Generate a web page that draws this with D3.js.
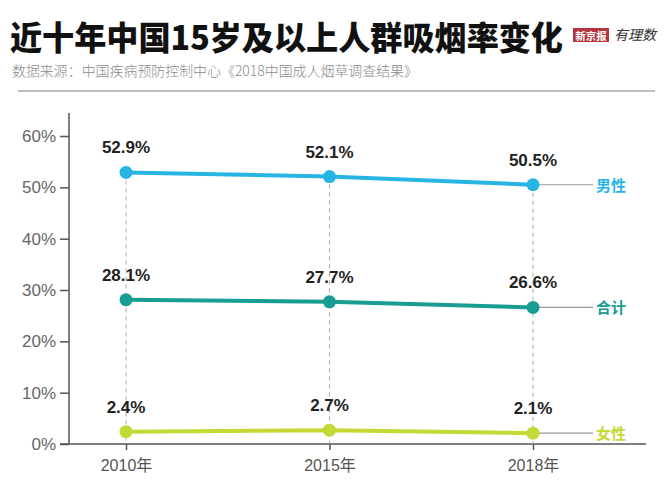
<!DOCTYPE html>
<html><head><meta charset="utf-8">
<script src="https://cdn.jsdelivr.net/npm/d3@7"></script>
<style>body{margin:0;background:#fff;}svg{display:block;}</style>
</head><body>
<svg id="c" width="669" height="500"></svg>
<script>
const years = ["2010年", "2015年", "2018年"];
const seriesNames = ["男性", "合计", "女性"];
const male = [52.9, 52.1, 50.5];
const total = [28.1, 27.7, 26.6];
const female = [2.4, 2.7, 2.1];
const yTicks = [0, 10, 20, 30, 40, 50, 60];
const titleText = "近十年中国15岁及以上人群吸烟率变化";
const sourceText = "数据来源：中国疾病预防控制中心《2018中国成人烟草调查结果》";

const series = [
  {name: seriesNames[0], values: male, color: "#27b4e2"},
  {name: seriesNames[1], values: total, color: "#199c91"},
  {name: seriesNames[2], values: female, color: "#c4d836"}
];

const svg = d3.select("#c");
const font = "'Liberation Sans', Arial, 'Noto Sans CJK SC', sans-serif";

// Title
svg.append("text").attr("x", 10).attr("y", 50)
  .attr("font-family", "'Noto Sans CJK SC', sans-serif").attr("font-weight", 900)
  .attr("font-size", 33).attr("fill", "#111").attr("letter-spacing", 0)
  .attr("textLength", 553).attr("lengthAdjust", "spacingAndGlyphs")
  .text(titleText);
// logo
svg.append("rect").attr("x", 573).attr("y", 28).attr("width", 36).attr("height", 14).attr("fill", "#b3353f");
svg.append("text").attr("x", 591).attr("y", 39.5).attr("text-anchor", "middle")
  .attr("font-family", "'Noto Sans CJK SC', serif").attr("font-weight", 700).attr("font-size", 10.5).attr("fill", "#fff")
  .text("新京报");
svg.append("text").attr("x", 614).attr("y", 40).attr("font-style", "italic")
  .attr("font-family", "'Noto Sans CJK SC', sans-serif").attr("font-size", 14).attr("fill", "#333")
  .text("有理数");
svg.append("text").attr("x", 12).attr("y", 76)
  .attr("font-family", "'Noto Sans CJK SC', sans-serif").attr("font-size", 14).attr("font-weight", 300).attr("fill", "#8a8a8a")
  .attr("textLength", 406).attr("lengthAdjust", "spacingAndGlyphs")
  .text(sourceText);
svg.append("line").attr("x1", 18).attr("x2", 655).attr("y1", 91).attr("y2", 91)
  .attr("stroke", "#aaa").attr("stroke-width", 1.5);

// scales
const x = d3.scalePoint().domain(years).range([126, 533]);
const y = d3.scaleLinear().domain([0, 60]).range([444, 136]);

// Axes
const yAxis = d3.axisLeft(y).tickValues(yTicks).tickFormat(d => d + "%").tickSize(9).tickPadding(4);
const gy = svg.append("g").attr("transform", "translate(69,0)").call(yAxis);
gy.select(".domain").remove();
gy.append("line").attr("x1", 0).attr("x2", 0).attr("y1", 113).attr("y2", 444).attr("stroke", "#555").attr("stroke-width", 1.5);
gy.selectAll(".tick line").attr("stroke", "#555").attr("stroke-width", 1.5);
gy.selectAll(".tick text").attr("font-family", font).attr("font-size", 17).attr("fill", "#666");

const xAxis = d3.axisBottom(x).tickSize(6).tickPadding(10);
const gx = svg.append("g").attr("transform", "translate(0,444)").call(xAxis);
gx.select(".domain").remove();
gx.append("line").attr("x1", 60).attr("x2", 646).attr("y1", 0).attr("y2", 0).attr("stroke", "#555").attr("stroke-width", 1.5);
gx.selectAll(".tick line").attr("stroke", "#555").attr("stroke-width", 1.5);
gx.selectAll(".tick text").attr("font-family", "Arial, 'Liberation Sans', 'Noto Sans CJK SC', sans-serif").attr("font-size", 16).attr("fill", "#555");

// dashed verticals
years.forEach((yr, i) => {
  svg.append("line").attr("x1", x(yr)).attr("x2", x(yr))
    .attr("y1", y(male[i])).attr("y2", 444)
    .attr("stroke", "#aaa").attr("stroke-width", 1).attr("stroke-dasharray", "4,4");
});

const line = d3.line().x((d, i) => x(years[i])).y(d => y(d));
series.forEach(s => {
  const last = s.values[s.values.length - 1];
  svg.append("line").attr("x1", x(years[2])).attr("x2", 593)
    .attr("y1", y(last)).attr("y2", y(last)).attr("stroke", "#999").attr("stroke-width", 1.2);
  svg.append("text").attr("x", 596).attr("y", y(last) + 6)
    .attr("font-family", "'Noto Sans CJK SC', sans-serif").attr("font-weight", 700)
    .attr("font-size", 15).attr("fill", s.color).text(s.name);
  svg.append("path").datum(s.values).attr("d", line)
    .attr("fill", "none").attr("stroke", s.color).attr("stroke-width", 4);
  svg.selectAll(null).data(s.values).enter().append("circle")
    .attr("cx", (d, i) => x(years[i])).attr("cy", d => y(d)).attr("r", 6.5).attr("fill", s.color);
  svg.selectAll(null).data(s.values).enter().append("text")
    .attr("x", (d, i) => x(years[i])).attr("y", d => y(d) - 19)
    .attr("text-anchor", "middle").attr("font-family", font).attr("font-weight", 700)
    .attr("font-size", 17).attr("fill", "#222").text(d => d.toFixed(1) + "%");
});
</script>
</body></html>
